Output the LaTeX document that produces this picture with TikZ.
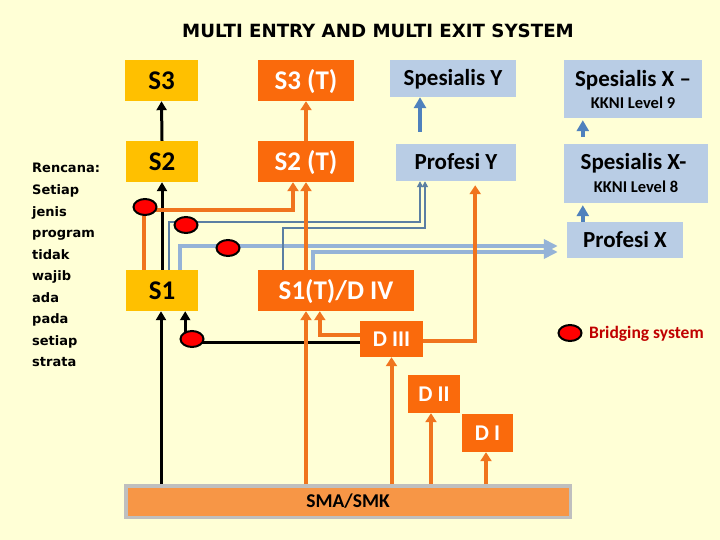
\documentclass[tikz,border=0pt]{standalone}
\usepackage{fontspec}
\setmainfont{Carlito}
\newfontfamily\dejavu{DejaVu Sans}
\usetikzlibrary{arrows.meta,shapes.geometric}
\definecolor{bg}{RGB}{255,255,214}
\definecolor{ybox}{HTML}{FFC000}
\definecolor{obox}{HTML}{FA6A0C}
\definecolor{oline}{HTML}{F0741E}
\definecolor{lbbox}{HTML}{B9CDE5}
\definecolor{sblue}{HTML}{4F81BD}
\definecolor{tblue}{HTML}{5B7FA3}
\definecolor{lbline}{HTML}{95B3D7}
\definecolor{smafill}{HTML}{F79646}
\definecolor{smaedge}{HTML}{BFBFBF}
\definecolor{bridgered}{HTML}{C00000}
\begin{document}
\begin{tikzpicture}[x=1pt,y=-1pt,
  ybx/.style={fill=ybox, minimum width=73pt, minimum height=41pt, inner sep=0pt,
    text height=17.4pt, text depth=0pt, font=\bfseries\fontsize{27}{27}\selectfont},
  obx/.style={ybx, fill=obox, text=white, minimum width=96pt},
  dbx/.style={fill=obox, text=white, minimum width=52pt, minimum height=38pt, inner sep=0pt,
    text height=14.5pt, text depth=0pt, font=\bfseries\fontsize{22.5}{22.5}\selectfont},
  lbx/.style={fill=lbbox, minimum width=120pt, minimum height=37pt, inner sep=0pt,
    text height=14.8pt, text depth=0pt, font=\bfseries\fontsize{23}{23}\selectfont},
  lbt/.style={inner sep=0pt, font=\bfseries\fontsize{23}{23}\selectfont},
  kk/.style={inner sep=0pt, font=\bfseries\fontsize{16.5}{16.5}\selectfont},
  smabox/.style={fill=smafill, draw=smaedge, line width=3.5pt, minimum width=444.5pt,
    minimum height=31.5pt, inner sep=0pt, text height=12.6pt, text depth=0pt,
    font=\bfseries\fontsize{19.5}{19.5}\selectfont},
  blk/.style={draw=black, line width=3pt, -{Triangle[width=10pt,length=9pt]}},
  orn/.style={draw=oline, line width=4pt, -{Triangle[width=11pt,length=9pt]}},
  sbl/.style={draw=sblue, line width=4pt, -{Triangle[width=12pt,length=11pt]}},
  thn/.style={draw=tblue, line width=1.8pt, -{Triangle[width=6pt,length=6pt]}},
  lbl/.style={draw=lbline, line width=4.5pt, -{Triangle[width=13pt,length=14pt]}},
  dot/.style={ellipse, fill=red, draw=black, line width=2pt, minimum width=23pt,
    minimum height=16pt, inner sep=0pt},
  lefttext/.style={inner sep=0pt, font=\dejavu\bfseries\fontsize{13}{13}\selectfont}
]
\fill[bg] (0,0) rectangle (720,540);
\useasboundingbox (0,0) rectangle (720,540);

% title
\node[anchor=base, inner sep=0pt, font=\dejavu\bfseries\fontsize{18.2}{18.2}\selectfont] (title) at (378,37.5) {MULTI ENTRY AND MULTI EXIT SYSTEM};

% left text
\foreach \w [count=\i] in {Rencana:,Setiap,jenis,program,tidak,wajib,ada,pada,setiap,strata}
  \node[lefttext, anchor=base west] (l\i) at ({32},{173+21.5*(\i-1)}) {\w};

% boxes
\node[ybx] (s3) at (161.5,80.5) {S3};
\node[ybx, minimum width=72pt] (s2) at (162,161.5) {S2};
\node[ybx, minimum width=72pt] (s1) at (162,290.5) {S1};
\node[obx] (s3t) at (306,80.5) {S3 (T)};
\node[obx] (s2t) at (306,161.5) {S2 (T)};
\node[obx, minimum width=156pt] (s1t) at (336,290.5) {S1(T)/D IV};
\node[dbx, minimum width=63pt, minimum height=36pt] (d3) at (391.5,339) {D III};
\node[dbx] (d2) at (434,394) {D II};
\node[dbx, minimum width=51pt] (d1) at (487.5,433) {D I};
\node[smabox] (sma) at (348,501.5) {SMA/SMK};
\node[lbx, minimum width=126pt] (spy) at (453,78.5) {Spesialis Y};
\node[lbx] (profy) at (456,162.5) {Profesi Y};
\node[lbx, minimum width=138pt, minimum height=58pt] (spx9) at (633,89) {};
\node[lbt, anchor=base] (spx9a) at (633,86.5) {Spesialis X –};
\node[kk, anchor=base] (spx9b) at (633,109) {KKNI Level 9};
\node[lbx, minimum width=144pt, minimum height=59pt] (spx8) at (636,173.5) {};
\node[lbt, anchor=base] (spx8a) at (633.5,170) {Spesialis X-};
\node[kk, anchor=base] (spx8b) at (636,193) {KKNI Level 8};
\node[lbx, minimum width=116pt, minimum height=36pt] (profx) at (625,240) {Profesi X};

% light blue thick lines to Profesi X
\coordinate (tc) at (180,246);
\coordinate (td) at (313,252);
\draw[lbl] (tc |- s1.north) -- (tc) -- ([xshift=-9pt]profx.west |- tc);
\draw[lbl] (td |- s1t.north) -- (td) -- ([xshift=-9pt]profx.west |- td);

% thin blue lines to Profesi Y
\coordinate (ta) at (169,222);
\coordinate (tb) at (283,228);
\draw[thn] (ta |- s1.north) -- (ta) -| ([xshift=-36pt]profy.south);
\draw[thn] (tb |- s1t.north) -- (tb) -| ([xshift=-31pt]profy.south);

% black arrows
\draw[blk] (s2.north) -- (s3.south);
\draw[blk] (s1.north) -- (s2.south);
\draw[blk] ([xshift=-1pt]s1.south |- sma.north) -- ([xshift=-1pt]s1.south);
\draw[blk] ([yshift=-3pt]d3.west) -| ([xshift=-13pt]s1.south east);

% orange arrows
\draw[orn] (s2t.north) -- (s3t.south);
\draw[orn] ([xshift=-30pt]s1t.north) -- (s2t.south);
\draw[orn] ([xshift=-30pt]s1t.south |- sma.north) -- ([xshift=-30pt]s1t.south);
\draw[orn] ([yshift=4pt]d3.west) -| ([xshift=62pt]s1t.south west);
\draw[orn] (d3.south |- sma.north) -- (d3.south);
\draw[orn] ([xshift=-3pt]d2.south |- sma.north) -- ([xshift=-3pt]d2.south);
\draw[orn] ([xshift=-1.5pt]d1.south |- sma.north) -- ([xshift=-1.5pt]d1.south);
\draw[orn, shorten >=4pt] ([yshift=-2pt]d3.east) -| ([xshift=-41pt]profy.south east);
\coordinate (oc) at (144,210);
\draw[orn] (oc |- s1.north) -- (oc) -| ([xshift=-13pt]s2t.south);

% steel blue arrows
\draw[sbl, shorten <=12pt] ([xshift=-36pt]profy.north) -- ([xshift=-36pt]profy.north |- spy.south);
\draw[sbl, shorten <=7pt, shorten >=2pt] ([xshift=19pt]spx8.north west) -- ([xshift=19pt]spx8.north west |- spx9.south);
\draw[sbl, shorten >=2pt] ([xshift=16pt]profx.north west) -- ([xshift=16pt]profx.north west |- spx8.south);

% bridging dots
\node[dot] (br1) at (192,339) {};
\node[dot] (br2) at (145,207) {};
\node[dot] (br3) at (186,225) {};
\node[dot] (br4) at (228,248) {};

% legend
\node[dot] (lg) at (570,333) {};
\node[anchor=base west, inner sep=0pt, text=bridgered, font=\bfseries\fontsize{17.5}{17.5}\selectfont] (lgt) at (589,338) {Bridging system};
\end{tikzpicture}
\end{document}
